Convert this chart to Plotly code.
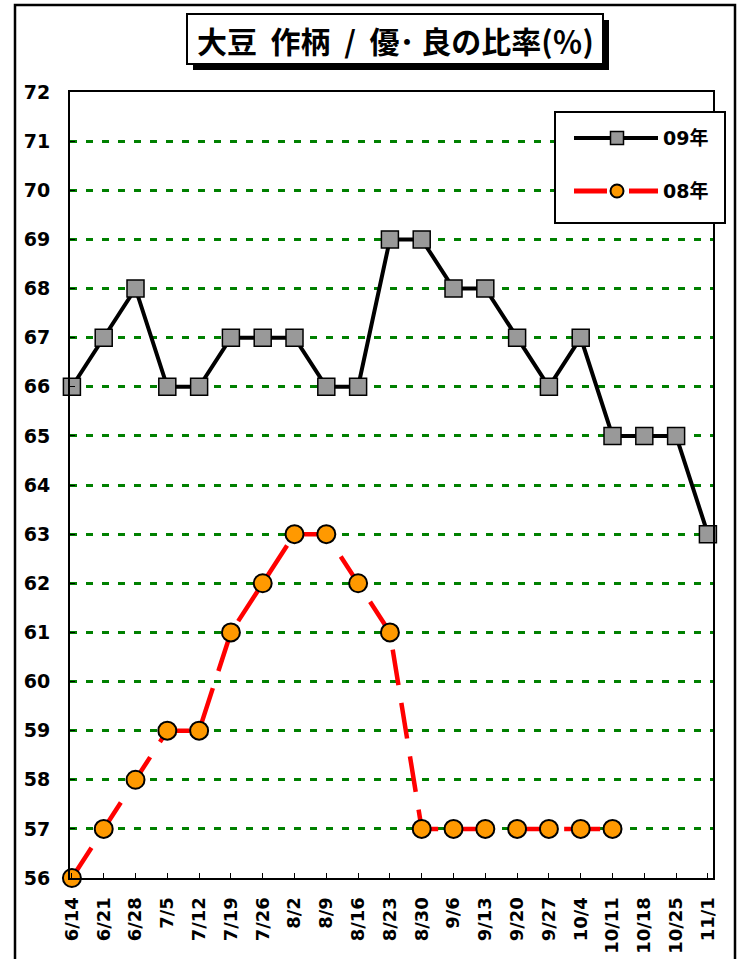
import plotly.graph_objects as go

categories = ["6/14", "6/21", "6/28", "7/5", "7/12", "7/19", "7/26", "8/2", "8/9", "8/16",
              "8/23", "8/30", "9/6", "9/13", "9/20", "9/27", "10/4", "10/11", "10/18", "10/25", "11/1"]
y09 = [66, 67, 68, 66, 66, 67, 67, 67, 66, 66, 69, 69, 68, 68, 67, 66, 67, 65, 65, 65, 63]
y08 = [56, 57, 58, 59, 59, 61, 62, 63, 63, 62, 61, 57, 57, 57, 57, 57, 57, 57, None, None, None]
series_names = ["09年", "08年"]
title_text = "大豆  作柄  /  優･ 良の比率(％)"

W, H = 740, 959
L, R, T, B = 70, 27, 92, 81
pw, ph = W - L - R, H - T - B


def px(x):
    return (x - L) / pw


def py(y):
    return (H - B - y) / ph


FONT = "DejaVu Sans, Liberation Sans, Noto Sans CJK JP, sans-serif"

fig = go.Figure()
fig.add_trace(go.Scatter(
    x=categories, y=y09, name=series_names[0], mode="lines+markers",
    line=dict(color="black", width=4),
    marker=dict(symbol="square", size=17, color="#999999", line=dict(color="black", width=1.5)),
    cliponaxis=False, showlegend=False))
fig.add_trace(go.Scatter(
    x=categories, y=y08, name=series_names[1], mode="lines+markers",
    line=dict(color="#ff0000", width=4.5, dash="36px,18px"),
    marker=dict(symbol="circle", size=18, color="#ff9900", line=dict(color="black", width=2)),
    cliponaxis=False, showlegend=False))


def rect(x0, y0, x1, y1, fill, lc="black", lw=2, layer="above", kind="rect"):
    return dict(type=kind, xref="paper", yref="paper", x0=px(x0), x1=px(x1), y0=py(y1), y1=py(y0),
                line=dict(color=lc, width=lw), fillcolor=fill, layer=layer)


def hline(x0, x1, y, color, width, dash="solid"):
    return dict(type="line", xref="paper", yref="paper", x0=px(x0), x1=px(x1), y0=py(y), y1=py(y),
                line=dict(color=color, width=width, dash=dash), layer="above")


shapes = [
    # outer frame
    rect(15, 5, 735, 975, "rgba(0,0,0,0)", lw=2.5, layer="below"),
    # title shadow + box
    rect(193, 20, 609, 70, "black", lw=0),
    rect(187, 14, 603, 64, "white", lw=2),
    # legend box
    rect(555, 112, 725, 223, "white", lw=2),
    # legend samples
    hline(574, 658, 138, "black", 4),
    rect(610.5, 131.5, 623.5, 144.5, "#999999", lw=1.5),
    hline(574, 607, 191, "#ff0000", 5),
    hline(629, 658, 191, "#ff0000", 5),
    rect(610.5, 184.5, 623.5, 197.5, "#ff9900", lw=2, kind="circle"),
]

annotations = [
    dict(text="<b>" + title_text + "</b>", xref="paper", yref="paper",
         x=px(395), y=py(40), xanchor="center", yanchor="middle", showarrow=False,
         font=dict(family="Noto Sans CJK JP, sans-serif", size=30, color="black")),
]
for name, yy in zip(series_names, [138, 191]):
    annotations.append(dict(text="<b>" + name + "</b>", xref="paper", yref="paper",
                            x=px(661), y=py(yy), xanchor="left", yanchor="middle", showarrow=False,
                            font=dict(family=FONT, size=19, color="black")))

fig.update_layout(
    width=W, height=H,
    margin=dict(l=L, r=R, t=T, b=B, autoexpand=False),
    paper_bgcolor="white", plot_bgcolor="white",
    font=dict(family=FONT, color="black", size=16),
    shapes=shapes,
    annotations=annotations,
    showlegend=False,
)
fig.update_xaxes(
    type="category", range=[-0.06, 20.16], showgrid=False, automargin=False,
    showline=True, linecolor="black", linewidth=2, mirror=True,
    ticks="inside", ticklen=5, tickcolor="black", tickangle=-90,
    tickfont=dict(family=FONT, size=18, color="black", weight="bold"),
    ticklabelstandoff=10,
)
fig.update_yaxes(
    range=[56, 72], dtick=1, showgrid=True, gridcolor="#008000", griddash="7px,9px", gridwidth=2.5,
    showline=True, linecolor="black", linewidth=2, mirror=True, automargin=False,
    ticks="inside", ticklen=5, tickcolor="black", zeroline=False,
    tickfont=dict(family=FONT, size=19, color="black", weight="bold"),
    ticklabelstandoff=14,
)
fig.write_html("out.html", config={"displayModeBar": False},
               post_script="document.body.style.margin='0px';")
